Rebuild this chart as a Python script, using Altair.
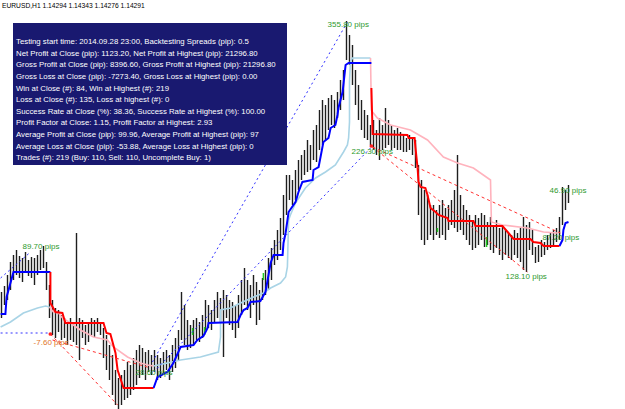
import altair as alt
import pandas as pd

# ---------------- data (x = bar number, y = pips above 1.1200) ----------------
high_pips = [117,123,134,147,154,159,153,151,157,149,
             152,151,154,159,163,147,124,109,101,99,
             94,91,87,91,87,176,91,89,84,87,
             91,89,91,87,81,74,64,54,39,31,
             34,39,47,44,51,59,64,61,57,59,
             54,59,54,51,57,59,54,64,71,79,
             117,104,89,84,89,91,87,94,109,104,
             99,109,117,111,119,114,109,107,104,114,
             129,141,129,124,134,127,119,131,139,151,
             161,169,179,191,214,234,234,229,239,249,
             254,259,269,264,279,284,299,309,304,311,
             314,309,317,329,339,388,374,364,339,324,
             309,299,294,284,289,279,291,284,301,289,
             284,279,281,277,274,271,274,272,269,244,
             229,219,214,204,204,199,204,209,201,204,
             209,219,254,214,204,199,194,189,194,191,
             196,194,187,192,184,189,181,182,179,176,
             174,179,176,181,192,184,187,179,162,164,
             169,167,174,177,179,181,192,222,219,224]
low_pips = [91,104,109,119,129,134,131,127,137,133,
            131,124,134,139,141,119,91,74,71,77,
            69,71,64,69,67,64,49,71,64,67,
            74,72,77,74,51,39,29,14,4,0,
            4,9,11,14,19,24,31,34,29,37,
            34,37,29,31,34,39,29,37,41,49,
            69,64,59,61,64,69,67,71,79,81,
            79,87,91,87,52,91,84,79,71,81,
            94,104,99,91,104,84,89,109,114,119,
            129,144,149,159,174,194,209,204,209,219,
            229,234,237,239,249,247,259,264,269,279,
            284,281,291,299,309,349,344,324,304,289,
            279,271,269,264,259,254,249,259,261,264,
            259,261,259,259,257,257,259,254,241,194,
            169,164,169,174,169,174,171,174,169,179,
            184,181,177,179,174,169,164,159,161,164,
            169,162,164,159,156,161,154,149,154,151,
            149,154,151,147,139,137,159,154,146,147,
            152,154,159,161,164,167,169,184,199,206]

green_x = [63.7, 67.7, 87.3, 145.3, 161.7]
green_hi = [81, 82, 136, 181, 172]
green_lo = [74, 74, 129, 177, 162]

# trend (step) indicator
blue1_x = [-0.3, 1.3, 1.7, 4, 16.3]
blue1_y = [95, 95, 112, 137, 137]
red1_x = [16.3, 16.3, 18, 20.3, 21.3, 34, 35, 36.3, 38, 38.7, 40.7, 50.7]
red1_y = [137, 106, 97, 96, 86, 86, 76, 75, 56, 39, 21, 21]
blue2_x = [50.7, 52, 55.3, 57.3, 59.7, 64, 65.3, 67.3, 68.7, 69,
           78.7, 79.7, 80.7, 82, 83, 86.3, 88, 89, 89.7, 90.7,
           93.7, 94, 94.7, 95.7, 98, 99, 100.3, 103.7, 104, 105.7,
           107.3, 109, 109.7, 111.3, 112, 112.3, 113.7, 114.7, 115.7, 123.3]
blue2_y = [21, 32, 37, 46, 62, 64, 69, 73, 81, 86,
           87, 94, 99, 101, 107, 108, 117, 134, 146, 154,
           154, 166, 176, 197, 207, 217, 227, 229, 239, 242,
           267, 271, 281, 284, 294, 301, 317, 344, 346, 346]
red2_x = [123.3, 123.7, 135.3, 135.7, 137.7, 138, 138.7, 139, 139.7, 141.3,
          142, 143, 144.7, 145.7, 148.7, 149, 157.3, 158, 167, 169,
          170.7, 176.3, 177.3, 179.7, 180.7, 186]
red2_y = [321, 275, 274, 271, 271, 261, 241, 227, 222, 221,
          214, 201, 197, 194, 191, 188, 188, 183, 183, 176,
          170, 170, 167, 166, 163, 163]
blue3_x = [186, 187, 187.3, 188, 189]
blue3_y = [163, 169, 179, 186, 187]

# smoothed indicator
lb1_x = [-0.3, 3, 7.3, 12, 14.7, 16]
lb1_y = [82, 87, 96, 101, 103, 102]
pink1_x = [16, 17.3, 19, 20.3, 23, 26.3, 30.7, 35.3, 37.3, 42, 46.3, 48.7, 50.7]
pink1_y = [102, 97, 96, 91, 86, 79, 72, 69, 62, 52, 46, 44, 43]
lb2_x = [50.7, 55.3, 59.7, 66.3, 72.3, 73, 73, 76.3, 79.7, 84,
         87.3, 89.7, 93, 94.7, 95.3, 95.7, 96.3, 98, 101.3, 104.7,
         108, 111.3, 114, 115.3, 115.7, 116, 116, 116.3, 117, 123]
lb2_y = [43, 46, 49, 52, 57, 72, 99, 101, 106, 112,
         116, 121, 126, 132, 142, 189, 194, 206, 221, 231,
         237, 244, 257, 264, 271, 287, 327, 347, 351, 351]
pink2_x = [123, 123.3, 123.7, 125.3, 129.7, 136.3, 142, 147.3, 152, 157.3,
           163, 163.3, 167, 175.3, 180.7, 185.3]
pink2_y = [351, 299, 297, 291, 284, 279, 269, 252, 246, 241,
           229, 187, 184, 181, 177, 176]

# trade connector lines
buy_lines = [([-0.3, 9.7], [131, 157]),
             ([-0.3, 16.3], [76, 76]),
             ([50.3, 115.3], [47, 387]),
             ([50.7, 123], [37, 261])]
sell_lines = [([16.3, 38.7], [75, 4]),
              ([17, 49.7], [69, 41]),
              ([123.7, 186.3], [262, 176]),
              ([123.7, 175.3], [262, 137])]

marker_x = [16.3, 123.3]
marker_y = [75, 263]

label_text = ["89.70 pips", "-7.60 pips", "28.60 pips", "355.80 pips",
              "226.30 pips", "128.10 pips", "87.20 pips", "46.90 pips"]
label_x = [7, 10.7, 44.7, 108.7, 116.7, 168, 180.3, 182.7]
label_y = [162, 66, 36, 384, 257, 132, 171, 218]
label_color = ["#2e9a2e", "#e0762a", "#2e9a2e", "#2e9a2e",
               "#2e9a2e", "#2e9a2e", "#2e9a2e", "#2e9a2e"]

stats_lines = [
    "Testing start time: 2014.09.28 23:00, Backtesting Spreads (pip): 0.5",
    "Net Profit at Close (pip): 1123.20, Net Profit at Highest (pip): 21296.80",
    "Gross Profit at Close (pip): 8396.60, Gross Profit at Highest (pip): 21296.80",
    "Gross Loss at Close (pip): -7273.40, Gross Loss at Highest (pip): 0.00",
    "Win at Close (#): 84, Win at Highest (#): 219",
    "Loss at Close (#): 135, Loss at highest (#): 0",
    "Success Rate at Close (%): 38.36, Success Rate at Highest (%): 100.00",
    "Profit Factor at Close: 1.15, Profit Factor at Highest: 2.93",
    "Average Profit at Close (pip): 99.96, Average Profit at Highest (pip): 97",
    "Average Loss at Close (pip): -53.88, Average Loss at Highest (pip): 0",
    "Trades (#): 219 (Buy: 110, Sell: 110, Uncomplete Buy: 1)",
]
header = "EURUSD,H1  1.14294 1.14343 1.14276 1.14291"

# ---------------- chart ----------------
XS = alt.Scale(domain=[-0.5, 625 / 3 - 0.5], nice=False, zero=False)
YS = alt.Scale(domain=[0, 409], nice=False, zero=False)
FONT = "Liberation Sans"
XE = dict(scale=XS, axis=None)
YE = dict(scale=YS, axis=None)


def line(xs, ys, color, width, dash=None):
    df = pd.DataFrame({"x": xs, "y": ys, "k": range(len(xs))})
    kw = dict(color=color, strokeWidth=width, clip=True)
    if dash:
        kw["strokeDash"] = dash
    return alt.Chart(df).mark_line(**kw).encode(
        x=alt.X("x:Q", **XE), y=alt.Y("y:Q", **YE), order="k:Q")


bars_df = pd.DataFrame({"x": list(range(len(high_pips))), "high": high_pips, "low": low_pips})
bars = alt.Chart(bars_df).mark_rule(color="#1e1e1e", strokeWidth=1.4, clip=True).encode(
    x=alt.X("x:Q", **XE), y=alt.Y("low:Q", **YE), y2="high:Q")

green_df = pd.DataFrame({"x": green_x, "hi": green_hi, "lo": green_lo})
greens = alt.Chart(green_df).mark_rule(color="#22cc22", strokeWidth=1.5).encode(
    x=alt.X("x:Q", **XE), y=alt.Y("lo:Q", **YE), y2="hi:Q")

layers = [bars, greens]
LB, PK = "#a9d4e6", "#ffb3bd"
layers += [line(lb1_x, lb1_y, LB, 1.6), line(pink1_x, pink1_y, PK, 1.6),
           line(lb2_x, lb2_y, LB, 1.6), line(pink2_x, pink2_y, PK, 1.6)]
layers += [line(blue1_x, blue1_y, "#0000ff", 2), line(red1_x, red1_y, "#ff0000", 2),
           line(blue2_x, blue2_y, "#0000ff", 2), line(red2_x, red2_y, "#ff0000", 2),
           line(blue3_x, blue3_y, "#0000ff", 2)]
for xs, ys in buy_lines:
    layers.append(line(xs, ys, "#3030ff", 1, [2, 3]))
for xs, ys in sell_lines:
    layers.append(line(xs, ys, "#ff3030", 1, [3, 3]))

markers = alt.Chart(pd.DataFrame({"x": marker_x, "y": marker_y})).mark_circle(
    color="#ff2020", size=14, opacity=1).encode(x=alt.X("x:Q", **XE), y=alt.Y("y:Q", **YE))
layers.append(markers)

lab_df = pd.DataFrame({"x": label_x, "y": label_y, "t": label_text, "c": label_color})
labels = alt.Chart(lab_df).mark_text(align="left", baseline="middle", font=FONT, fontSize=8).encode(
    x=alt.X("x:Q", **XE), y=alt.Y("y:Q", **YE),
    text="t:N", color=alt.Color("c:N", scale=None))
layers.append(labels)

one = pd.DataFrame({"k": [0]})
box = alt.Chart(one).mark_rect(color="#191970").encode(
    x=alt.value(13), x2=alt.value(287), y=alt.value(23), y2=alt.value(165))
layers.append(box)

stats = alt.Chart(pd.DataFrame({"t": ["\n".join(stats_lines)]})).mark_text(
    align="left", baseline="alphabetic", font=FONT, fontSize=7.8, color="white",
    lineBreak="\n", lineHeight=11.6).encode(x=alt.value(16), y=alt.value(44.2), text="t:N")
layers.append(stats)

head = alt.Chart(pd.DataFrame({"t": [header]})).mark_text(
    align="left", baseline="alphabetic", font=FONT, fontSize=6.7, color="black").encode(
    x=alt.value(2), y=alt.value(7.8), text="t:N")
layers.append(head)

chart = alt.layer(*layers).properties(
    width=625, height=409, autosize=alt.AutoSizeParams(type="none"), padding=0,
    background="white"
).configure_view(stroke=None)

chart.save("out.html", embed_options={"renderer": "svg", "actions": False})
